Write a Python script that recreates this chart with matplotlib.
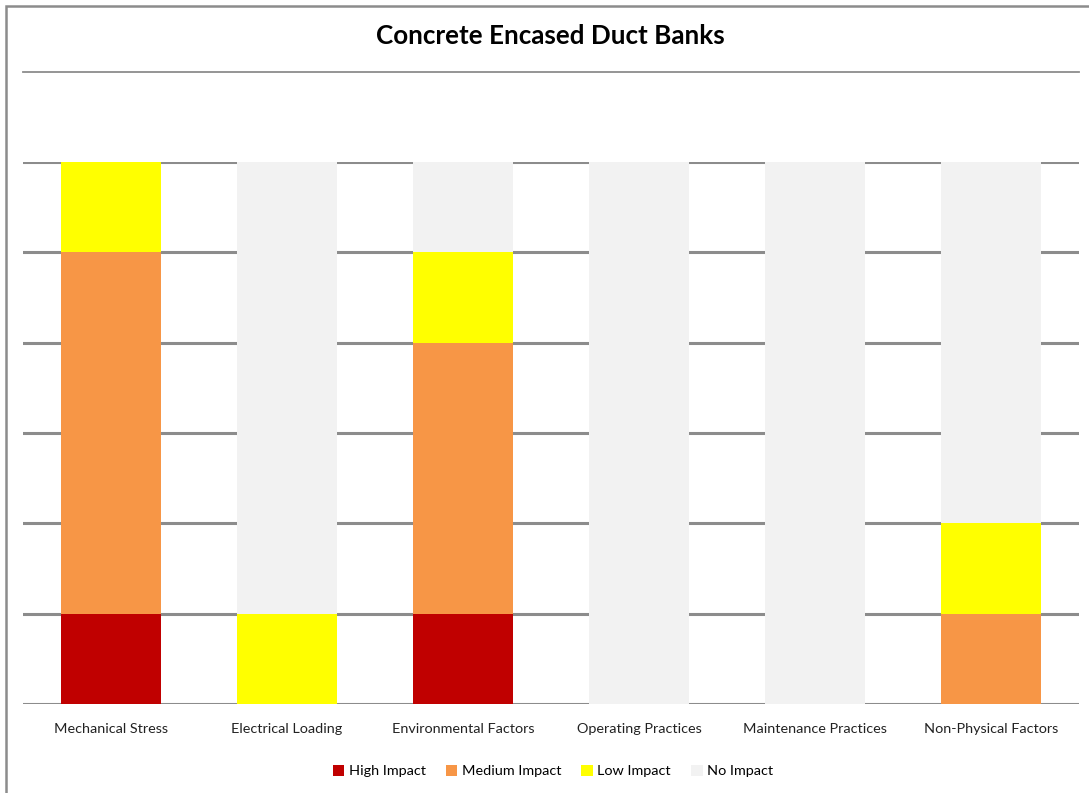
import matplotlib
matplotlib.use("Agg")
import matplotlib.pyplot as plt
from matplotlib.lines import Line2D
from matplotlib.patches import Rectangle, Patch
import numpy as np

# Data
categories = ["Mechanical Stress", "Electrical Loading", "Environmental Factors",
              "Operating Practices", "Maintenance Practices", "Non-Physical Factors"]
series_names = ["High Impact", "Medium Impact", "Low Impact", "No Impact"]
high_impact = [1, 0, 1, 0, 0, 0]
medium_impact = [4, 0, 3, 0, 0, 1]
low_impact = [1, 1, 1, 0, 0, 1]
no_impact = [0, 5, 1, 6, 6, 4]
colors = ["#C00000", "#F79646", "#FFFF00", "#F2F2F2"]

plt.rcParams["font.family"] = ["Lato", "DejaVu Sans"]

W, H = 1089, 793
fig = plt.figure(figsize=(W / 100, H / 100), dpi=100)
fig.patch.set_facecolor("white")

ax = fig.add_axes([23 / W, 1 - 704 / H, (1079 - 23) / W, (704 - 162) / H])
x = np.arange(len(categories))
bottom = np.zeros(len(categories))
for vals, col, name in zip([high_impact, medium_impact, low_impact, no_impact], colors, series_names):
    ax.bar(x, vals, bottom=bottom, width=0.57, color=col, label=name, zorder=3, linewidth=0)
    bottom += np.array(vals)

ax.set_xlim(-0.5, len(categories) - 0.5)
ax.set_ylim(0, 6)
ax.set_yticks(np.arange(0, 7))
ax.yaxis.grid(True, color="#8C8C8C", linewidth=2.2, zorder=1)
ax.set_axisbelow(True)
ax.tick_params(axis="y", left=False, labelleft=False)
ax.tick_params(axis="x", bottom=False, labelsize=10.4, pad=10, colors="#222222")
ax.set_xticks(x)
ax.set_xticklabels(categories)
for s in ax.spines.values():
    s.set_visible(False)
ax.set_facecolor("none")

# Title and separator line
fig.text(550 / W, 1 - 36 / H, "Concrete Encased Duct Banks", ha="center", va="center",
         fontsize=18.7, fontweight="bold", color="black")
fig.add_artist(Line2D([23 / W, 1079 / W], [1 - 72 / H, 1 - 72 / H],
                      transform=fig.transFigure, color="#8C8C8C", linewidth=1.3))

# Outer border
fig.add_artist(Rectangle((5.5 / W, -0.05), 1.1, 1 - 5.5 / H + 0.05, transform=fig.transFigure,
                         fill=False, edgecolor="#8C8C8C", linewidth=1.8))

handles = [Patch(facecolor=c, edgecolor="none") for c in colors]
fig.legend(handles, series_names, loc="center", bbox_to_anchor=(553 / W, 1 - 771 / H),
           ncol=4, frameon=False, fontsize=10.4, handlelength=0.8, handleheight=0.8,
           handletextpad=0.3, columnspacing=1.4)

fig.savefig("out.png", dpi=100, facecolor="white")
